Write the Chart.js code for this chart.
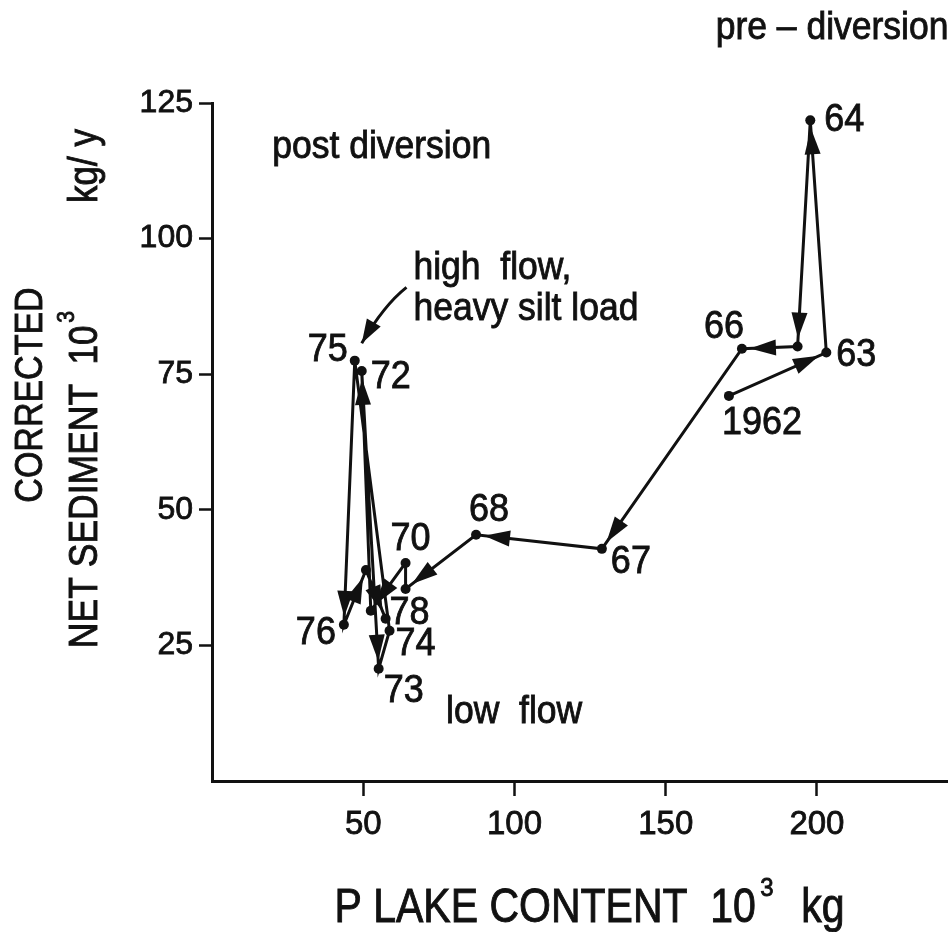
<!DOCTYPE html>
<html lang="en">
<head>
  <meta charset="UTF-8">
  <title>Net sediment vs P lake content</title>
  <script src="https://cdn.jsdelivr.net/npm/chart.js@4.4.0/dist/chart.umd.min.js"></script>
  <style>
    html, body { margin: 0; padding: 0; background: #fff; }
    #wrap { width: 952px; height: 932px; }
  </style>
</head>
<body>
  <div id="wrap"><canvas id="sedimentChart" width="952" height="932"></canvas></div>

  <script>
    // Yearly path, 1962 - 1978 (P lake content vs corrected net sediment, both 10^3 kg)
    const years      = [1962, 1963, 1964, 1965, 1966, 1967, 1968, 1969, 1970, 1971, 1972, 1973, 1974, 1975, 1976, 1977, 1978];
    const yearLabels = ['1962', '63', '64', '', '66', '67', '68', '', '70', '', '72', '73', '74', '75', '76', '', '78'];
    const lakeP      = [170.9, 203.1, 197.8, 193.6, 175.2, 128.9, 87.3, 64.0, 64.0, 52.5, 49.5, 55.1, 58.7, 47.2, 43.6, 50.9, 57.4];
    const sediment   = [71.0, 79.0, 121.8, 80.1, 79.7, 42.8, 45.4, 35.4, 40.2, 31.4, 75.6, 20.7, 27.7, 77.5, 28.8, 38.9, 29.9];

    const xTicks = [50, 100, 150, 200];
    const yTicks = [25, 50, 75, 100, 125];

    // years whose incoming segment is drawn without an arrow head
    const plainSegments = [1970, 1974, 1975];

    const INK = '#111';
    const FONT = "'Liberation Sans', Arial, sans-serif";

    // label placement around each point: [dx, dy] in px
    const labelOffsets = {
      '1962': [33, 27], '63': [30, 3], '64': [34, 0], '66': [-18, -22],
      '67': [29, 13], '68': [13, -25], '70': [5, -24], '72': [29, 6],
      '73': [25, 22], '74': [26, 13], '75': [-27, -11], '76': [-28, 8], '78': [24, -6]
    };

    // free text on the plot, anchored in data units
    const notes = [
      { text: 'pre \u2013 diversion', x: 205.0, y: 138.8, align: 'center' },
      { text: 'post diversion', x: 56.1, y: 116.8, align: 'center' },
      { text: 'high  flow,', x: 66.6, y: 94.5, align: 'left' },
      { text: 'heavy silt load', x: 66.6, y: 86.9, align: 'left' },
      { text: 'low  flow', x: 77.4, y: 12.6, align: 'left' }
    ];
    // curved pointer from the "high flow" note down to 1975
    const pointer = { from: [64.3, 91.0], via: [56.8, 87.7], to: [49.5, 80.7] };

    function drawText(ctx, text, x, y, size, align, rotate, stretch) {
      ctx.save();
      ctx.translate(x, y);
      if (rotate) ctx.rotate(rotate);
      ctx.scale(1, stretch || 1);
      ctx.font = size + 'px ' + FONT;
      ctx.textAlign = align || 'center';
      ctx.textBaseline = 'middle';
      ctx.fillStyle = INK;
      ctx.strokeStyle = INK;
      ctx.lineWidth = 0.8;
      ctx.fillText(text, 0, 0);
      ctx.strokeText(text, 0, 0);
      ctx.restore();
    }

    function drawHead(ctx, x0, y0, x1, y1, gap, len, half) {
      const a = Math.atan2(y1 - y0, x1 - x0);
      const c = Math.cos(a), s = Math.sin(a);
      const tx = x1 - c * gap, ty = y1 - s * gap;
      ctx.beginPath();
      ctx.moveTo(tx, ty);
      ctx.lineTo(tx - len * c + half * s, ty - len * s - half * c);
      ctx.lineTo(tx - len * c - half * s, ty - len * s + half * c);
      ctx.closePath();
      ctx.fill();
    }

    const decorations = {
      id: 'decorations',
      afterDatasetsDraw(chart) {
        const { ctx, chartArea, scales: { x, y } } = chart;
        ctx.save();
        ctx.fillStyle = INK;
        ctx.strokeStyle = INK;

        // arrow heads along the yearly path
        for (let i = 1; i < years.length; i++) {
          if (plainSegments.includes(years[i])) continue;
          drawHead(ctx,
            x.getPixelForValue(lakeP[i - 1]), y.getPixelForValue(sediment[i - 1]),
            x.getPixelForValue(lakeP[i]), y.getPixelForValue(sediment[i]),
            8, 26, 8);
        }

        // year labels
        yearLabels.forEach((lbl, i) => {
          if (!lbl) return;
          const off = labelOffsets[lbl];
          drawText(ctx, lbl, x.getPixelForValue(lakeP[i]) + off[0], y.getPixelForValue(sediment[i]) + off[1], 36, 'center', 0, 1.1);
        });

        // notes
        notes.forEach(n => {
          drawText(ctx, n.text, x.getPixelForValue(n.x), y.getPixelForValue(n.y), 35.5, n.align, 0, 1.1);
        });

        // pointer to 1975
        const p0 = [x.getPixelForValue(pointer.from[0]), y.getPixelForValue(pointer.from[1])];
        const p1 = [x.getPixelForValue(pointer.via[0]), y.getPixelForValue(pointer.via[1])];
        const p2 = [x.getPixelForValue(pointer.to[0]), y.getPixelForValue(pointer.to[1])];
        ctx.lineWidth = 3;
        ctx.beginPath();
        ctx.moveTo(p0[0], p0[1]);
        ctx.quadraticCurveTo(p1[0], p1[1], p2[0], p2[1]);
        ctx.stroke();
        drawHead(ctx, p1[0], p1[1], p2[0], p2[1], 0, 24, 8);

        // x axis title, with a raised exponent
        const ty = chartArea.bottom + 128;
        drawText(ctx, 'P LAKE CONTENT', 511, ty, 41, 'center', 0, 1.15);
        drawText(ctx, '10', 733, ty, 41, 'center', 0, 1.15);
        drawText(ctx, '3', 767, ty - 20, 24, 'center', 0, 1.1);
        drawText(ctx, 'kg', 823, ty, 41, 'center', 0, 1.15);

        // y axis title, two lines
        const up = -Math.PI / 2;
        drawText(ctx, 'CORRECTED', 31, 395, 34, 'center', up, 1.15);
        drawText(ctx, 'NET SEDIMENT', 86, 516, 35.5, 'center', up, 1.15);
        drawText(ctx, '10', 86, 345, 35, 'center', up, 1.15);
        drawText(ctx, '3', 68, 317, 21, 'center', up, 1.1);
        drawText(ctx, 'kg/ y', 86, 166, 35, 'center', up, 1.15);

        ctx.restore();
      }
    };

    new Chart(document.getElementById('sedimentChart'), {
      type: 'scatter',
      data: {
        datasets: [{
          data: years.map((yr, i) => ({ x: lakeP[i], y: sediment[i] })),
          showLine: true,
          tension: 0,
          borderColor: INK,
          borderWidth: 3,
          pointRadius: 5,
          pointBackgroundColor: INK,
          pointBorderWidth: 0
        }]
      },
      options: {
        responsive: false,
        animation: false,
        devicePixelRatio: 1,
        layout: { padding: { top: 103, left: 0, right: 0, bottom: 0 } },
        plugins: {
          legend: { display: false },
          tooltip: { enabled: false }
        },
        scales: {
          x: {
            type: 'linear',
            min: 0,
            max: 243,
            afterBuildTicks: s => { s.ticks = xTicks.map(v => ({ value: v })); },
            afterFit: s => { s.height = 151; },
            grid: { drawOnChartArea: false, drawTicks: true, tickLength: 15, tickWidth: 2.5, tickColor: INK },
            border: { display: true, color: INK, width: 3 },
            ticks: { color: INK, font: { family: FONT, size: 33 }, padding: 9, maxRotation: 0, textStrokeColor: INK, textStrokeWidth: 0.8 }
          },
          y: {
            type: 'linear',
            min: 0,
            max: 125,
            afterBuildTicks: s => { s.ticks = yTicks.map(v => ({ value: v })); },
            afterFit: s => { s.width = 212; },
            grid: { drawOnChartArea: false, drawTicks: true, tickLength: 13, tickWidth: 2.5, tickColor: INK },
            border: { display: true, color: INK, width: 3 },
            ticks: { color: INK, font: { family: FONT, size: 32 }, padding: 6, textStrokeColor: INK, textStrokeWidth: 0.8 }
          }
        }
      },
      plugins: [decorations]
    });
  </script>
</body>
</html>
